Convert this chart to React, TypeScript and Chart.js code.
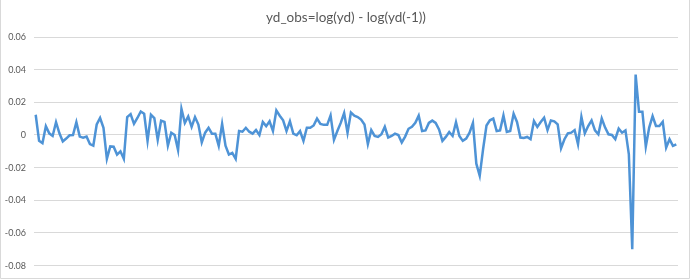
import { useEffect, useRef } from "react";
import { Chart, registerables } from "chart.js";

Chart.register(...registerables);

const TITLE = "yd_obs=log(yd) - log(yd(-1))";
const Y_TICKS = [-0.08, -0.06, -0.04, -0.02, 0, 0.02, 0.04, 0.06];

const PART_1 = [
  0.0124, -0.0036, -0.005, 0.0054, 0.001, -0.0006, 0.0078, 0.001, -0.004, -0.0022,
  -0.0002, 0, 0.0078, -0.001, -0.0016, -0.001, -0.0056, -0.0066, 0.0064, 0.0104,
  0.0044, -0.0146, -0.007, -0.0072, -0.012, -0.01, -0.0146, 0.011, 0.0128, 0.0068,
  0.0104, 0.0144, 0.013, -0.0036, 0.0124, 0.0104, -0.003, 0.0088, 0.008,
];
const PART_2 = [
  -0.0066, 0.0014, 0, -0.0092, 0.016, 0.0074, 0.0114, 0.005, 0.011, 0.0064,
  -0.0046, 0.0014, 0.0044, 0.0008, 0.0008, -0.0066, 0.0068, -0.0066, -0.012, -0.011,
  -0.0146, 0.0024, 0.002, 0.0044, 0.002, 0.0008, 0.003, 0, 0.008, 0.0054,
  0.0084, 0.0024, 0.015, 0.0118, 0.009, 0.0024, 0.0084,
];
const PART_3 = [
  0.0008, -0.0002, 0.0024, -0.0036, 0.0044, 0.0044, 0.0058, 0.01, 0.0068, 0.0062,
  0.0062, 0.012, -0.003, 0.0024, 0.0074, 0.0134, 0.0014, 0.0138, 0.0118, 0.011,
  0.0094, 0.0064, -0.0056, 0.003, -0.0006, -0.0012, 0.0004, 0.005, -0.0016, -0.0006,
  0.0008, 0,
];
const PART_4 = [
  -0.0046, -0.001, 0.0038, 0.005, 0.0074, 0.0118, 0.0024, 0.0028, 0.0074, 0.0088,
  0.0074, 0.0034, -0.0036, -0.0012, 0.0018, -0.0006, 0.0078, -0.0006, -0.0036, -0.0022,
  0.0014, 0.0074, -0.0176, -0.025, -0.0086, 0.0058, 0.009, 0.01, 0.0024, 0.0028,
  0.012, 0.0018, 0.0024, 0.013, 0.008, -0.0016,
];
const PART_5 = [
  -0.0018, -0.0012, -0.0026, 0.0085, 0.0049, 0.0079, 0.0106, 0.003, 0.0089, 0.0083,
  0.0065, -0.0081, -0.0026, 0.001, 0.0014, 0.003, -0.0057, 0.011, 0.001, 0.0055,
  0.0089, 0.0028, 0.0004, 0.0101, 0.0045, 0.0004, 0, -0.0026, 0.0039, 0.0014,
  0.0028, -0.0118, -0.07, 0.037, 0.0142, 0.0142, -0.0071, 0.0045, 0.0116, 0.0055,
  0.0055, 0.0081, -0.0077, -0.0026, -0.0067, -0.0057,
];

const VALUES = [...PART_1, ...PART_2, ...PART_3, ...PART_4, ...PART_5];
const CATEGORIES = VALUES.map((_, i) => String(i + 1));

export default function App() {
  const ref = useRef<HTMLCanvasElement | null>(null);

  useEffect(() => {
    if (!ref.current) return;
    document.body.style.margin = "0";
    const frame = {
      id: "frame",
      afterDraw(chart: any) {
        const ctx = chart.ctx;
        ctx.save();
        ctx.strokeStyle = "#d9d9d9";
        ctx.lineWidth = 1;
        ctx.beginPath();
        ctx.moveTo(0.5, 0);
        ctx.lineTo(0.5, 278.5);
        ctx.lineTo(689.5, 278.5);
        ctx.lineTo(689.5, 0);
        ctx.stroke();
        ctx.fillStyle = "#595959";
        ctx.font = "13.5px Lato, 'Liberation Sans', sans-serif";
        ctx.textAlign = "center";
        ctx.textBaseline = "alphabetic";
        ctx.fillText(TITLE, 346, 22);
        ctx.restore();
      },
    };
    const chart = new Chart(ref.current, {
      type: "line",
      data: {
        labels: CATEGORIES,
        datasets: [
          {
            data: VALUES,
            borderColor: "#4e93d6",
            borderWidth: 2.5,
            pointRadius: 0,
            tension: 0,
            fill: false,
          },
        ],
      },
      options: {
        animation: false,
        responsive: false,
        layout: { padding: { top: 37, bottom: 12, right: 12, left: 0 } },
        plugins: { legend: { display: false }, title: { display: false }, tooltip: { enabled: false } },
        scales: {
          x: { display: false, offset: true },
          y: {
            min: -0.08,
            max: 0.06,
            afterFit(scale: any) {
              scale.width = 34;
            },
            afterBuildTicks(scale: any) {
              scale.ticks = Y_TICKS.map((v) => ({ value: v }));
            },
            border: { display: false },
            grid: { color: "#d9d9d9", drawTicks: false },
            ticks: {
              padding: 8,
              color: "#595959",
              font: { size: 9, family: "Lato, 'Liberation Sans', sans-serif" },
              callback: (v: any) => (Number(v) === 0 ? "0" : Number(v).toFixed(2)),
            },
          },
        },
      },
      plugins: [frame],
    });
    return () => chart.destroy();
  }, []);

  return (
    <div style={{ position: "fixed", left: 0, top: 0, width: 690, height: 279, background: "#fff" }}>
      <canvas ref={ref} width={690} height={279} style={{ width: 690, height: 279 }} />
    </div>
  );
}
